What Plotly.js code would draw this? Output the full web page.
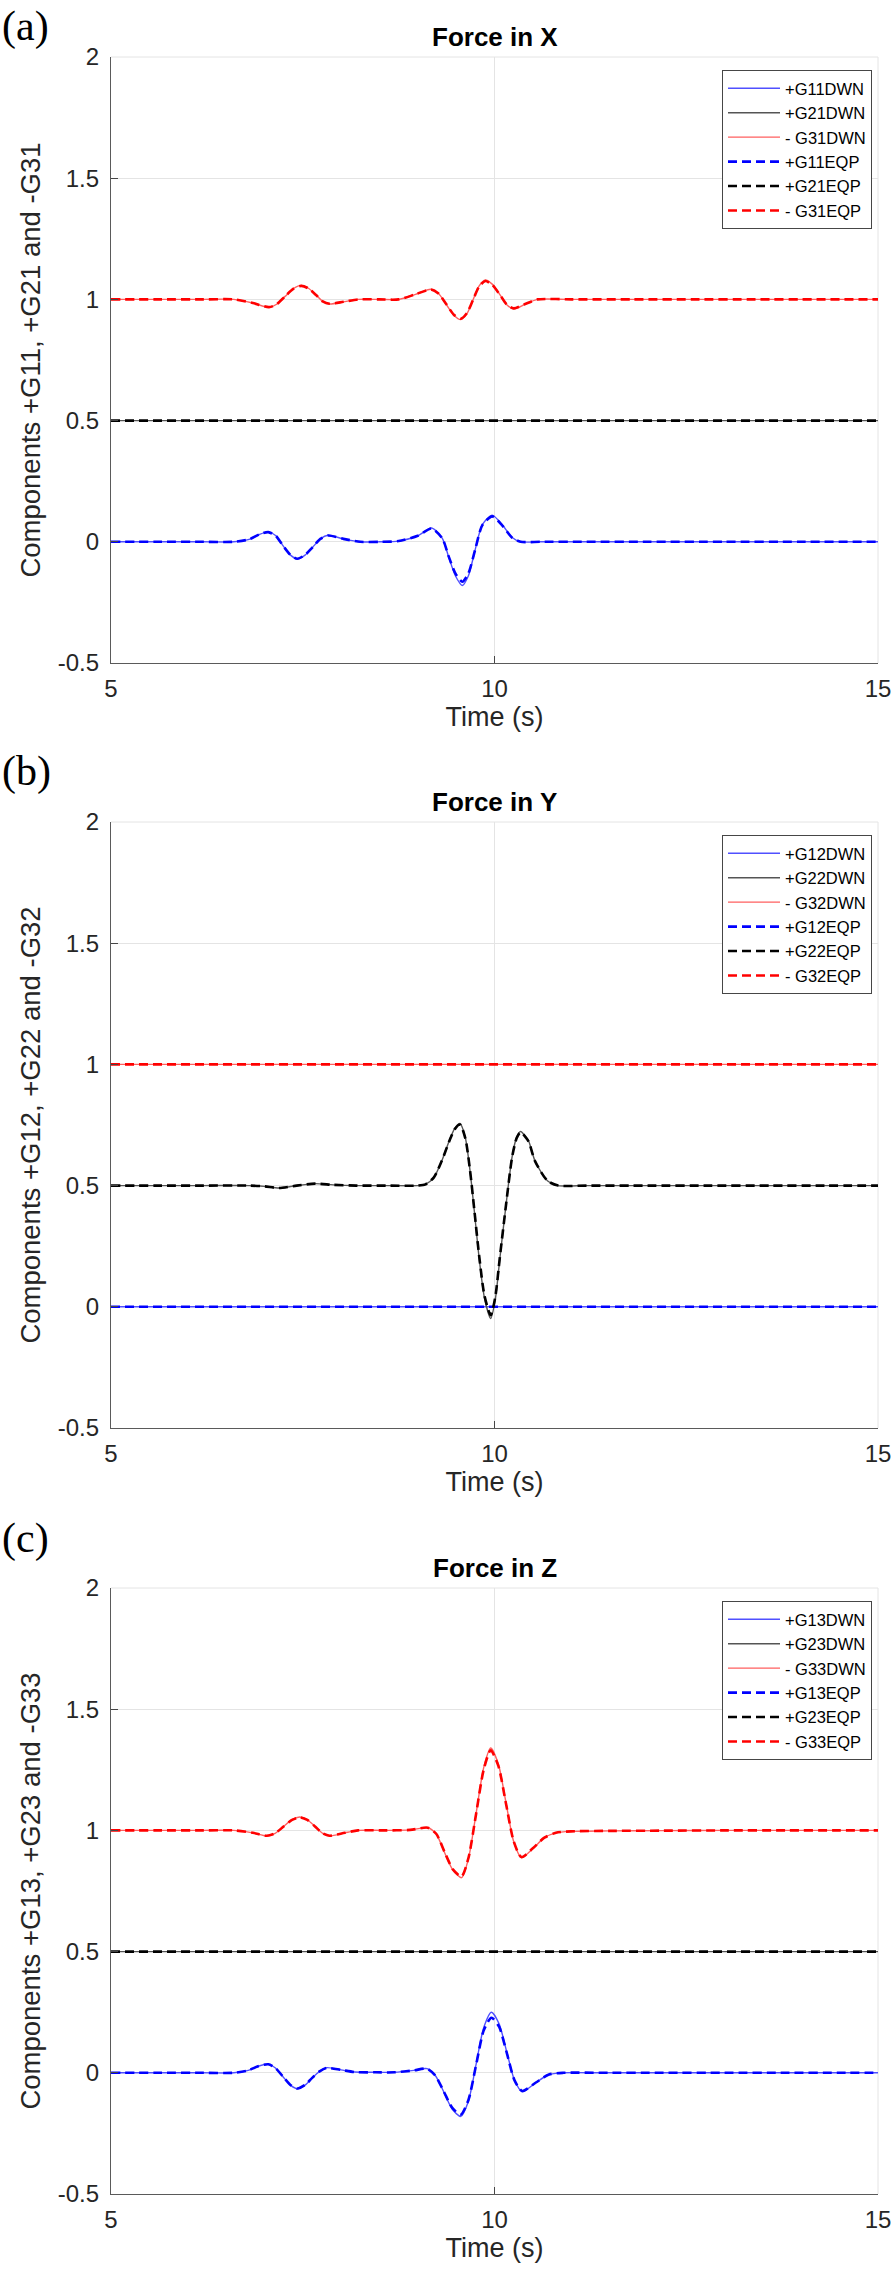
<!DOCTYPE html>
<html>
<head>
<meta charset="utf-8">
<script src="https://cdn.plot.ly/plotly-3.0.1.min.js"></script>
<style>html,body{margin:0;padding:0;background:#fff;}#chart{width:896px;height:2277px;}</style>
</head>
<body>
<div id="chart"></div>
<script>
// ---------------- Data ----------------
const xTicks = [5, 10, 15];
const yTicks = [-0.5, 0, 0.5, 1, 1.5, 2];
const yTickText = ['-0.5', '0', '0.5', '1', '1.5', '2'];

const panelTitles = ['Force in X', 'Force in Y', 'Force in Z'];
const panelLetters = ['(a)', '(b)', '(c)'];
const yTitles = ['Components +G11, +G21 and -G31', 'Components +G12, +G22 and -G32', 'Components +G13, +G23 and -G33'];
const legendNamesA = ['+G11DWN', '+G21DWN', '- G31DWN', '+G11EQP', '+G21EQP', '- G31EQP'];
const legendNamesB = ['+G12DWN', '+G22DWN', '- G32DWN', '+G12EQP', '+G22EQP', '- G32EQP'];
const legendNamesC = ['+G13DWN', '+G23DWN', '- G33DWN', '+G13EQP', '+G23EQP', '- G33EQP'];

// flat components
const tFlat = [5, 15];
const flatZero = [0, 0];
const flatHalf = [0.5, 0.5];
const flatOne = [1, 1];

// Panel (a): +G11 (offset 0)
const tA_G11 = [5, 5.6, 6.2, 6.6, 6.8, 6.93, 7.05, 7.15, 7.24, 7.34, 7.43, 7.53, 7.63, 7.73, 7.83, 8.03, 8.25, 8.5, 8.75, 9.0, 9.18, 9.32, 9.40, 9.49, 9.58, 9.66, 9.75, 9.84, 9.97, 10.10, 10.23, 10.34, 10.6, 11.2, 12, 13, 14, 15];
const G11DWN = [0, 0, 0, 0, 0.01, 0.03, 0.041, 0.025, -0.015, -0.055, -0.071, -0.055, -0.022, 0.012, 0.027, 0.012, 0.0, 0.0, 0.003, 0.025, 0.057, 0.014, -0.06, -0.14, -0.18, -0.14, -0.03, 0.07, 0.11, 0.07, 0.018, 0.0, 0.0, 0, 0, 0, 0, 0];
const G11EQP = [0, 0, 0, 0, 0.01, 0.03, 0.040, 0.024, -0.015, -0.054, -0.070, -0.054, -0.022, 0.012, 0.026, 0.012, 0.0, 0.0, 0.003, 0.025, 0.055, 0.014, -0.058, -0.13, -0.165, -0.13, -0.03, 0.068, 0.105, 0.068, 0.017, 0.0, 0.0, 0, 0, 0, 0, 0];
// Panel (a): -G31 (offset 1)
const tA_G31 = [5, 5.6, 6.2, 6.6, 6.85, 7.06, 7.16, 7.27, 7.38, 7.48, 7.57, 7.67, 7.76, 7.85, 8.03, 8.22, 8.5, 8.75, 8.97, 9.17, 9.27, 9.37, 9.47, 9.56, 9.64, 9.72, 9.80, 9.88, 9.97, 10.07, 10.16, 10.25, 10.40, 10.56, 11.0, 11.8, 12.6, 13.4, 14.2, 15];
const G31DWN = [1, 1, 1, 1, 0.985, 0.967, 0.98, 1.0125, 1.045, 1.058, 1.047, 1.0195, 0.992, 0.981, 0.99, 1.0, 1.0, 1.0, 1.021, 1.042, 1.024, 0.98, 0.935, 0.917, 0.941, 0.998, 1.056, 1.08, 1.063, 1.02, 0.978, 0.961, 0.98, 1.0, 1, 1, 1, 1, 1, 1];
const G31EQP = [1, 1, 1, 1, 0.985, 0.968, 0.98, 1.0125, 1.044, 1.056, 1.046, 1.019, 0.992, 0.982, 0.99, 1.0, 1.0, 1.0, 1.021, 1.041, 1.024, 0.981, 0.937, 0.92, 0.943, 0.998, 1.053, 1.076, 1.06, 1.019, 0.979, 0.963, 0.981, 1.0, 1, 1, 1, 1, 1, 1];

// Panel (b): +G22 (offset 0.5)
const tB_G22 = [5, 5.6, 6.2, 6.8, 7.0, 7.19, 7.42, 7.66, 7.9, 8.2, 8.6, 9.0, 9.1, 9.21, 9.31, 9.41, 9.48, 9.55, 9.62, 9.68, 9.74, 9.80, 9.87, 9.95, 10.01, 10.07, 10.15, 10.23, 10.29, 10.34, 10.41, 10.45, 10.53, 10.69, 10.83, 11.2, 12, 12.8, 13.6, 14.3, 15];
const G22DWN = [0.5, 0.5, 0.5, 0.5, 0.497, 0.49, 0.5, 0.508, 0.503, 0.5, 0.5, 0.5, 0.505, 0.534, 0.6, 0.685, 0.735, 0.756, 0.697, 0.564, 0.385, 0.2, 0.035, -0.048, 0.03, 0.2, 0.42, 0.62, 0.70, 0.723, 0.70, 0.68, 0.60, 0.52, 0.5, 0.5, 0.5, 0.5, 0.5, 0.5, 0.5];
const G22EQP = [0.5, 0.5, 0.5, 0.5, 0.497, 0.49, 0.5, 0.508, 0.503, 0.5, 0.5, 0.5, 0.505, 0.534, 0.6, 0.683, 0.732, 0.752, 0.695, 0.565, 0.39, 0.21, 0.045, -0.035, 0.04, 0.205, 0.42, 0.618, 0.697, 0.72, 0.698, 0.678, 0.60, 0.52, 0.5, 0.5, 0.5, 0.5, 0.5, 0.5, 0.5];

// Panel (c): +G13 (offset 0)
const tC_G13 = [5, 5.6, 6.2, 6.6, 6.79, 6.92, 7.05, 7.14, 7.24, 7.34, 7.43, 7.53, 7.62, 7.72, 7.81, 8.0, 8.18, 8.45, 8.7, 8.95, 9.12, 9.23, 9.34, 9.45, 9.56, 9.66, 9.76, 9.86, 9.96, 10.06, 10.16, 10.26, 10.36, 10.54, 10.71, 10.9, 11.4, 12.2, 13, 13.8, 14.5, 15];
const G13DWN = [0, 0, 0, 0, 0.01, 0.027, 0.036, 0.021, -0.015, -0.051, -0.066, -0.051, -0.022, 0.006, 0.021, 0.012, 0.003, 0.002, 0.002, 0.01, 0.017, -0.012, -0.08, -0.151, -0.18, -0.117, 0.035, 0.187, 0.25, 0.202, 0.086, -0.03, -0.078, -0.04, -0.007, 0, 0, 0, 0, 0, 0, 0];
const G13EQP = [0, 0, 0, 0, 0.01, 0.027, 0.035, 0.021, -0.015, -0.05, -0.065, -0.05, -0.022, 0.006, 0.02, 0.012, 0.003, 0.002, 0.002, 0.01, 0.017, -0.012, -0.078, -0.145, -0.172, -0.112, 0.032, 0.175, 0.227, 0.19, 0.082, -0.03, -0.075, -0.04, -0.007, 0, 0, 0, 0, 0, 0, 0];
// Panel (c): -G33 (offset 1)
const tC_G33 = [5, 5.6, 6.2, 6.6, 6.85, 7.03, 7.14, 7.25, 7.36, 7.46, 7.56, 7.66, 7.76, 7.85, 8.05, 8.22, 8.55, 8.9, 9.13, 9.24, 9.35, 9.46, 9.57, 9.66, 9.76, 9.86, 9.95, 10.05, 10.15, 10.25, 10.35, 10.5, 10.65, 10.8, 11.0, 11.5, 12.2, 13, 13.8, 14.5, 15];
const G33DWN = [1, 1, 1, 1, 0.99, 0.977, 0.988, 1.016, 1.044, 1.055, 1.044, 1.016, 0.988, 0.977, 0.99, 1.0, 1.0, 1.002, 1.011, 0.985, 0.908, 0.835, 0.805, 0.883, 1.07, 1.26, 1.34, 1.274, 1.114, 0.954, 0.888, 0.925, 0.97, 0.99, 0.996, 0.998, 0.999, 1.0, 1.0, 1.0, 1.0];
const G33EQP = [1, 1, 1, 1, 0.99, 0.978, 0.988, 1.016, 1.043, 1.054, 1.043, 1.016, 0.988, 0.978, 0.99, 1.0, 1.0, 1.002, 1.011, 0.986, 0.91, 0.838, 0.81, 0.886, 1.068, 1.252, 1.33, 1.266, 1.11, 0.955, 0.89, 0.926, 0.97, 0.99, 0.996, 0.998, 0.999, 1.0, 1.0, 1.0, 1.0];

// ---------------- Styles ----------------
const FONT = 'Liberation Sans, Arial, Helvetica, sans-serif';
const solidCol = ['rgb(80,80,255)', 'rgb(85,85,85)', 'rgb(255,95,95)'];
const dashCol = ['rgb(0,0,255)', 'rgb(0,0,0)', 'rgb(255,0,0)'];

function solid(x, y, name, ci, ax, lg) {
  return {x: x, y: y, name: name, type: 'scatter', mode: 'lines', xaxis: 'x' + ax, yaxis: 'y' + ax, legend: lg,
    line: {color: solidCol[ci], width: 1.4, shape: 'spline', smoothing: 0.7}, hoverinfo: 'skip'};
}
function dashed(x, y, name, ci, ax, lg) {
  return {x: x, y: y, name: name, type: 'scatter', mode: 'lines', xaxis: 'x' + ax, yaxis: 'y' + ax, legend: lg,
    line: {color: dashCol[ci], width: 2.6, dash: '9px,5px', shape: 'spline', smoothing: 0.7}, hoverinfo: 'skip'};
}

const traces = [
  // (a)
  solid(tA_G11, G11DWN, legendNamesA[0], 0, '', 'legend'),
  solid(tFlat, flatHalf, legendNamesA[1], 1, '', 'legend'),
  solid(tA_G31, G31DWN, legendNamesA[2], 2, '', 'legend'),
  dashed(tA_G11, G11EQP, legendNamesA[3], 0, '', 'legend'),
  dashed(tFlat, flatHalf, legendNamesA[4], 1, '', 'legend'),
  dashed(tA_G31, G31EQP, legendNamesA[5], 2, '', 'legend'),
  // (b)
  solid(tFlat, flatZero, legendNamesB[0], 0, '2', 'legend2'),
  solid(tB_G22, G22DWN, legendNamesB[1], 1, '2', 'legend2'),
  solid(tFlat, flatOne, legendNamesB[2], 2, '2', 'legend2'),
  dashed(tFlat, flatZero, legendNamesB[3], 0, '2', 'legend2'),
  dashed(tB_G22, G22EQP, legendNamesB[4], 1, '2', 'legend2'),
  dashed(tFlat, flatOne, legendNamesB[5], 2, '2', 'legend2'),
  // (c)
  solid(tC_G13, G13DWN, legendNamesC[0], 0, '3', 'legend3'),
  solid(tFlat, flatHalf, legendNamesC[1], 1, '3', 'legend3'),
  solid(tC_G33, G33DWN, legendNamesC[2], 2, '3', 'legend3'),
  dashed(tC_G13, G13EQP, legendNamesC[3], 0, '3', 'legend3'),
  dashed(tFlat, flatHalf, legendNamesC[4], 1, '3', 'legend3'),
  dashed(tC_G33, G33EQP, legendNamesC[5], 2, '3', 'legend3')
];

// ---------------- Layout ----------------
const H = 2277, mT = 57, mB = 83, plotH = H - mT - mB;
const pxTop = [57, 822, 1588], panelH = 606;
function dom(top) { const bottomPx = top + panelH; return [(H - mB - bottomPx) / plotH, (H - mB - top) / plotH]; }

const tickFont = {family: FONT, size: 24, color: 'rgb(38,38,38)'};
function xAxis(anchor) {
  return {anchor: anchor, domain: [0, 1], range: [5, 15], tickvals: xTicks, ticktext: xTicks.map(String),
    ticks: 'inside', ticklen: 7, tickwidth: 1, tickcolor: 'rgb(70,70,70)',
    showline: true, linecolor: 'rgb(90,90,90)', linewidth: 1.2, mirror: false,
    showgrid: true, gridcolor: 'rgb(228,228,228)', gridwidth: 1, zeroline: false,
    tickfont: tickFont, ticklabelstandoff: 4,
    title: {text: 'Time (s)', font: {family: FONT, size: 27, color: 'rgb(38,38,38)'}, standoff: 3}, fixedrange: true};
}
function yAxis(anchor, d, title) {
  return {anchor: anchor, domain: d, range: [-0.5, 2], tickvals: yTicks, ticktext: yTickText,
    ticks: 'inside', ticklen: 7, tickwidth: 1, tickcolor: 'rgb(70,70,70)',
    showline: true, linecolor: 'rgb(90,90,90)', linewidth: 1.2, mirror: false,
    showgrid: true, gridcolor: 'rgb(228,228,228)', gridwidth: 1, zeroline: false,
    tickfont: tickFont, ticklabelstandoff: 6,
    title: {text: title, font: {family: FONT, size: 27.5, color: 'rgb(38,38,38)'}, standoff: 9}, fixedrange: true};
}

function legendBox(topPx) {
  return {x: (872 - 111) / 767, xanchor: 'right', xref: 'paper',
    y: (H - mB - topPx) / plotH, yanchor: 'top', yref: 'paper',
    bgcolor: 'white', bordercolor: 'rgb(70,70,70)', borderwidth: 1,
    font: {family: FONT, size: 16.5, color: 'black'}, itemwidth: 52, tracegroupgap: 0, traceorder: 'normal'};
}

const annotations = [];
const shapes = [];
const axSuffix = ['', '2', '3'];
for (let i = 0; i < 3; i++) {
  const xr = 'x' + axSuffix[i] + ' domain', yr = 'y' + axSuffix[i] + ' domain';
  annotations.push({text: '<b>' + panelTitles[i] + '</b>', xref: xr, yref: yr, x: 0.5, y: 1, yanchor: 'bottom', xanchor: 'center',
    yshift: 3, showarrow: false, font: {family: FONT, size: 26, color: 'black'}});
  const letter = {text: panelLetters[i], xref: 'paper', yref: yr, x: (0 - 111) / 767, y: 1, xanchor: 'left',
    showarrow: false, font: {family: 'Liberation Serif, Times New Roman, serif', size: 42, color: 'black'}};
  if (i === 0) { letter.yanchor = 'top'; letter.yshift = 56; }
  else { letter.yanchor = 'middle'; letter.yshift = 50; }
  annotations.push(letter);
  shapes.push({type: 'line', xref: xr, yref: yr, x0: 0, x1: 1, y0: 1, y1: 1, line: {color: 'rgb(228,228,228)', width: 1}, layer: 'below'});
  shapes.push({type: 'line', xref: xr, yref: yr, x0: 1, x1: 1, y0: 0, y1: 1, line: {color: 'rgb(228,228,228)', width: 1}, layer: 'below'});
}

const layout = {
  width: 896, height: H, margin: {l: 111, r: 18, t: mT, b: mB, pad: 0},
  paper_bgcolor: 'white', plot_bgcolor: 'white', font: {family: FONT, color: 'rgb(38,38,38)'},
  showlegend: true,
  xaxis: xAxis('y'), xaxis2: xAxis('y2'), xaxis3: xAxis('y3'),
  yaxis: yAxis('x', dom(pxTop[0]), yTitles[0]),
  yaxis2: yAxis('x2', dom(pxTop[1]), yTitles[1]),
  yaxis3: yAxis('x3', dom(pxTop[2]), yTitles[2]),
  legend: legendBox(pxTop[0] + 13), legend2: legendBox(pxTop[1] + 13), legend3: legendBox(pxTop[2] + 13),
  annotations: annotations, shapes: shapes
};

Plotly.newPlot('chart', traces, layout, {displayModeBar: false, staticPlot: true});
</script>
</body>
</html>
